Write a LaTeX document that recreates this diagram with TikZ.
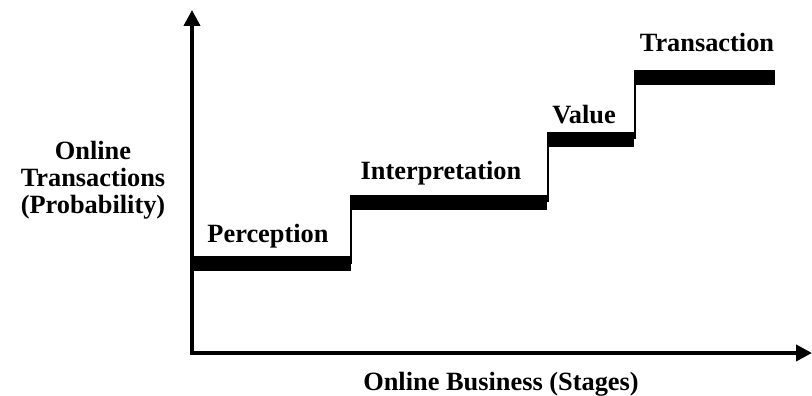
\documentclass[tikz,border=0pt]{standalone}
\usepackage{fontspec}
\setmainfont{Liberation Serif}
\usetikzlibrary{arrows.meta}

\tikzset{
  axis/.style={line width=2.2pt, -{Triangle[length=0.32cm, width=0.32cm]}},
  stage/.style={line width=0.3cm},
  riser/.style={line width=1.1pt},
  lbl/.style={align=center, font=\fontsize{15}{15.5}\selectfont\bfseries}
}

\begin{document}
\begin{tikzpicture}
\useasboundingbox (0,0) rectangle (16.24,7.92);

% axes
\coordinate (o) at (3.84,0.86);
\coordinate (ytop) at (3.84,7.72);
\coordinate (xend) at (16.24,0.86);
\draw [axis] ([yshift=-1.1pt]o) -- (ytop);
\draw [axis] (o) -- (xend);

% step corners
\coordinate (s1a) at (3.86,2.64);
\coordinate (s1b) at (7.02,2.64);
\coordinate (s2a) at (7.00,3.87);
\coordinate (s2b) at (10.94,3.87);
\coordinate (s3a) at (10.94,5.13);
\coordinate (s3b) at (12.68,5.13);
\coordinate (s4a) at (12.68,6.37);
\coordinate (s4b) at (15.50,6.37);

\draw [stage] (s1a) -- (s1b);
\draw [stage] (s2a) -- (s2b);
\draw [stage] (s3a) -- (s3b);
\draw [stage] (s4a) -- (s4b);

\draw [riser] ([xshift=0.02cm]s2a) -- ([xshift=0.02cm]s2a |- s1a);
\draw [riser] ([xshift=0.02cm]s3a) -- ([xshift=0.02cm]s3a |- s2a);
\draw [riser] ([xshift=0.02cm]s4a) -- ([xshift=0.02cm]s4a |- s3a);

% stage names
\node (per) [lbl] at (5.36,3.20) {Perception};
\node (int) [lbl] at (8.82,4.46) {Interpretation};
\node (val) [lbl] at (11.68,5.62) {Value};
\node (tra) [lbl] at (14.14,7.08) {Transaction};

% axis titles
\node (ylab) [lbl] at (1.86,4.32) {Online \\ Transactions \\ (Probability)};
\node (xlab) [lbl] at (10.02,0.24) {Online Business (Stages)};
\end{tikzpicture}
\end{document}
